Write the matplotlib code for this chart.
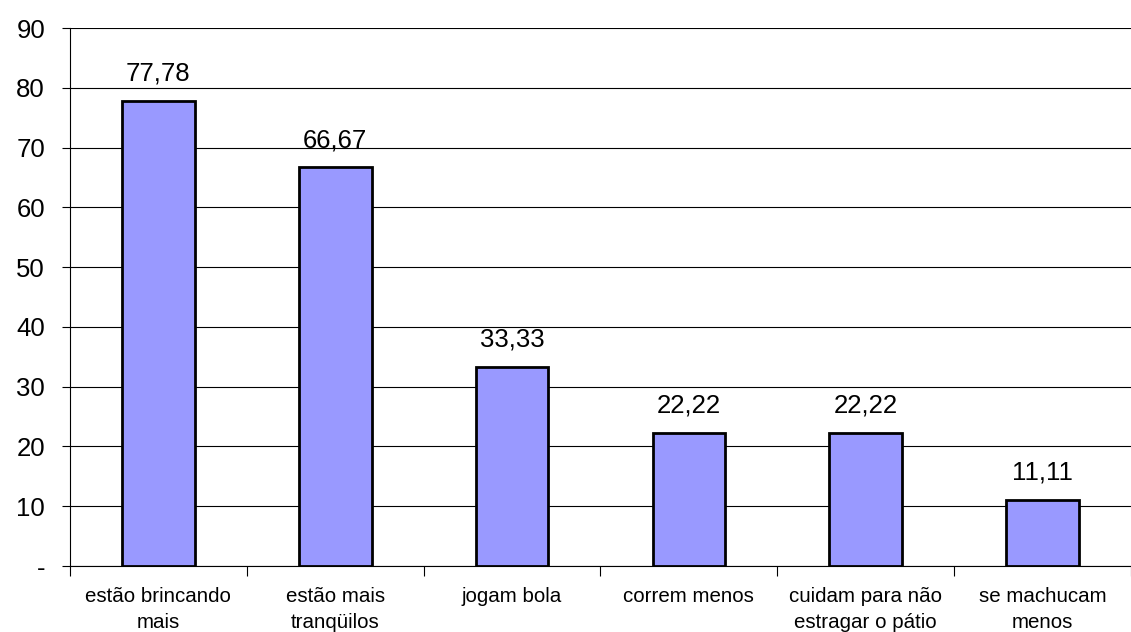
import matplotlib
matplotlib.use('Agg')
import matplotlib.pyplot as plt
import numpy as np

plt.rcParams['font.family'] = ['Liberation Sans', 'DejaVu Sans']

# dados do gráfico
categorias = ['estão brincando\nmais', 'estão mais\ntranqüilos', 'jogam bola',
              'correm menos', 'cuidam para não\nestragar o pátio', 'se machucam\nmenos']
valores = [77.78, 66.67, 33.33, 22.22, 22.22, 11.11]
yticks = [0, 10, 20, 30, 40, 50, 60, 70, 80, 90]
ytick_labels = ['-', '10', '20', '30', '40', '50', '60', '70', '80', '90']

fig = plt.figure(figsize=(11.31, 6.32), dpi=100)
ax = fig.add_axes([70 / 1131, 1 - 566 / 632, 1 - 70 / 1131, (566 - 28) / 632])

x = np.arange(len(categorias))
ax.bar(x, valores, width=0.41, color='#9999FF', edgecolor='black', linewidth=2, zorder=3)

for xi, v in zip(x, valores):
    ax.annotate(f'{v:.2f}'.replace('.', ','), (xi, v), xytext=(0, 11), textcoords='offset points',
                ha='center', va='bottom', fontsize=18.5)

ax.set_ylim(0, 90)
ax.set_xlim(-0.5, -0.5 + (1131 - 70) / 178.6)
ax.set_yticks(yticks)
ax.set_yticklabels(ytick_labels, fontsize=18.5)
ax.yaxis.grid(True, color='black', linewidth=0.8, zorder=0)
ax.tick_params(axis='y', direction='out', length=6, width=0.8, pad=12)

# ticks nas divisões das categorias, rótulos no centro
ax.set_xticks(np.arange(len(categorias) + 1) - 0.5)
ax.set_xticklabels([])
ax.set_xticks(x, minor=True)
ax.set_xticklabels(categorias, minor=True, fontsize=14.8, linespacing=1.45)
ax.tick_params(axis='x', which='major', direction='out', length=7, width=0.8)
ax.tick_params(axis='x', which='minor', length=0, pad=15)

for s in ['top', 'right']:
    ax.spines[s].set_visible(False)
ax.spines['left'].set_linewidth(0.8)
ax.spines['bottom'].set_linewidth(0.8)

fig.savefig('out.png', dpi=100)
